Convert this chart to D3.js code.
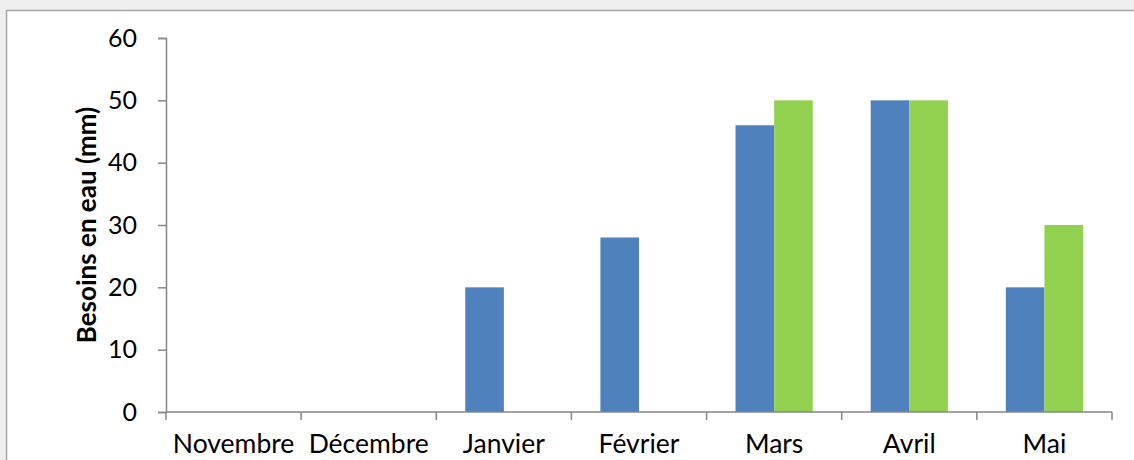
<!DOCTYPE html>
<html>
<head>
<meta charset="utf-8">
<script src="https://cdn.jsdelivr.net/npm/d3@7"></script>
<style>
  html, body { margin: 0; padding: 0; background: #f0f0f0; }
  svg { display: block; }
</style>
</head>
<body>
<svg id="chart" width="1134" height="460"></svg>
<script>
// Monthly water needs (mm) for two scenarios
const months = ["Novembre", "Décembre", "Janvier", "Février", "Mars", "Avril", "Mai"];
const serieA = [0, 0, 20, 28, 46, 50, 20];
const serieB = [0, 0, 0, 0, 50, 50, 30];
const yTicks = [0, 10, 20, 30, 40, 50, 60];
const yTitle = "Besoins en eau (mm)";

const svg = d3.select("#chart");
const W = 1134, H = 460;
const margin = { left: 166, right: 22, top: 38, bottom: 48 };
const font = "Lato, 'Open Sans', sans-serif";

// chart frame
svg.append("rect")
  .attr("x", 6.5).attr("y", 10.5)
  .attr("width", W + 20).attr("height", H + 20)
  .attr("fill", "#ffffff").attr("stroke", "#a6a6a6").attr("stroke-width", 1.5);

const x = d3.scaleBand().domain(months)
  .range([margin.left, W - margin.right]).paddingInner(0).paddingOuter(0);
const y = d3.scaleLinear().domain([0, 60]).range([H - margin.bottom, margin.top]);

// bars: two series side by side, gap ~150% of a bar
const bw = x.bandwidth() / 3.5;
const series = [
  { values: serieA, color: "#4f81bd", offset: -1 },
  { values: serieB, color: "#92d050", offset: 0 }
];
series.forEach(s => {
  svg.append("g").selectAll("rect")
    .data(months.map((m, i) => ({ m, v: s.values[i] })).filter(d => d.v > 0))
    .join("rect")
    .attr("x", d => x(d.m) + x.bandwidth() / 2 + s.offset * bw)
    .attr("y", d => y(d.v))
    .attr("width", bw)
    .attr("height", d => y(0) - y(d.v))
    .attr("fill", s.color);
});

// y axis
const yAxis = svg.append("g")
  .attr("transform", `translate(${margin.left},0)`)
  .call(d3.axisLeft(y).tickValues(yTicks).tickSize(8).tickPadding(21).tickFormat(d3.format("d")));
yAxis.selectAll("line, path").attr("stroke", "#868686").attr("stroke-width", 1.5);
yAxis.selectAll("text").attr("font-family", font).attr("font-size", 25).attr("fill", "#000");

// x axis with ticks on category boundaries
const xg = svg.append("g").attr("transform", `translate(0,${y(0)})`);
xg.append("line")
  .attr("x1", margin.left).attr("x2", W - margin.right)
  .attr("stroke", "#868686").attr("stroke-width", 1.5);
const bounds = months.map(m => x(m)).concat([W - margin.right]);
xg.selectAll("line.tick").data(bounds).join("line").attr("class", "tick")
  .attr("x1", d => d).attr("x2", d => d).attr("y1", 0).attr("y2", 8)
  .attr("stroke", "#868686").attr("stroke-width", 1.5);
xg.selectAll("text").data(months).join("text")
  .attr("x", d => x(d) + x.bandwidth() / 2)
  .attr("y", 41)
  .attr("text-anchor", "middle")
  .attr("font-family", font).attr("font-size", 26.5).attr("fill", "#000")
  .text(d => d);

// y title
svg.append("text")
  .attr("transform", `translate(96,${(y(0) + y(60)) / 2}) rotate(-90)`)
  .attr("text-anchor", "middle")
  .attr("font-family", font).attr("font-size", 26).attr("font-weight", "bold")
  .attr("fill", "#000")
  .text(yTitle);
</script>
</body>
</html>
